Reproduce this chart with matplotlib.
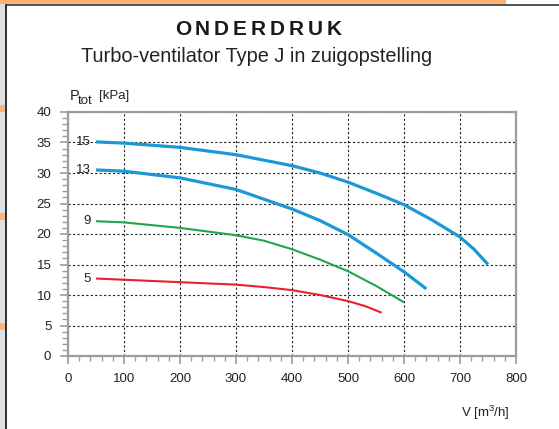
import numpy as np
import matplotlib
matplotlib.use('Agg')
import matplotlib.pyplot as plt
from matplotlib.patches import Rectangle
from matplotlib.ticker import MultipleLocator

plt.rcParams['font.family'] = ['Liberation Sans', 'DejaVu Sans']
plt.rcParams['mathtext.fontset'] = 'custom'
plt.rcParams['mathtext.rm'] = 'Liberation Sans'

# curves (V in m3/h, P in kPa)
v15 = [50, 100, 200, 300, 400, 450, 500, 550, 600, 650, 675, 700, 725, 750]
p15 = [35.1, 34.9, 34.2, 33.0, 31.2, 30.0, 28.5, 26.7, 24.8, 22.3, 20.9, 19.5, 17.5, 15.0]
v13 = [50, 100, 200, 300, 400, 450, 500, 550, 600, 640]
p13 = [30.5, 30.3, 29.2, 27.3, 24.1, 22.2, 19.9, 16.9, 13.8, 11.0]
v9 = [50, 100, 200, 300, 350, 400, 450, 500, 550, 600]
p9 = [22.1, 21.9, 21.0, 19.8, 18.9, 17.5, 15.8, 13.9, 11.5, 8.8]
v5 = [50, 100, 200, 300, 350, 400, 450, 500, 530, 560]
p5 = [12.7, 12.5, 12.1, 11.7, 11.3, 10.8, 10.0, 9.0, 8.2, 7.1]
curve_labels = ['15', '13', '9', '5']
curve_colors = ['#1b98d5', '#1b98d5', '#1fa64a', '#e8202a']
curve_widths = [2.3, 2.3, 1.5, 1.5]

W, H = 559, 429
fig = plt.figure(figsize=(W / 100, H / 100), dpi=100)


def px_rect(x0, y0, x1, y1, color):
    # rectangle in pixel coords, y measured from the top
    fig.patches.append(Rectangle((x0 / W, 1 - y1 / H), (x1 - x0) / W, (y1 - y0) / H,
                                 transform=fig.transFigure, color=color, lw=0, zorder=0))


def px_text(x, y, s, **kw):
    return fig.text(x / W, 1 - y / H, s, **kw)


# page frame decorations
px_rect(0, 0, 6, H, '#dedfe0')
px_rect(0, 0, 506, 4, '#fbb378')
for yy in (105, 213, 323):
    px_rect(0, yy, 5, yy + 7, '#fbb378')
px_rect(5, 4, W, 6, '#555555')
px_rect(5, 4, 7, H, '#333333')


def spaced_text(s, xc, yb, gap, **kw):
    r = fig.canvas.get_renderer()
    widths = []
    for ch in s:
        t = fig.text(0, 0, ch, **kw)
        widths.append(t.get_window_extent(r).width)
        t.remove()
    x = xc - (sum(widths) + gap * (len(s) - 1)) / 2
    for ch, w in zip(s, widths):
        px_text(x, yb, ch, ha='left', va='baseline', **kw)
        x += w + gap


spaced_text('ONDERDRUK', 258, 35, 3.9, fontsize=15, fontweight='bold', color='#1a1a1a')
px_text(256.5, 62, 'Turbo-ventilator Type J in zuigopstelling',
        ha='center', va='baseline', fontsize=14.4, color='#222222')

# axis titles
px_text(69.5, 99.5, 'P', ha='left', va='baseline', fontsize=10.5, color='#222222')
px_text(78, 104.5, 'tot', ha='left', va='baseline', fontsize=9.5, color='#222222')
px_text(99.5, 98.5, '[kPa]', ha='left', va='baseline', fontsize=9.5, color='#222222')
px_text(510, 417, r'V [m$^{\mathregular{3}}$/h]', ha='right', va='baseline',
        fontsize=9.5, color='#222222')

ax = fig.add_axes([68 / W, 1 - 356 / H, (516 - 68) / W, (356 - 112) / H])
ax.set_xlim(0, 800)
ax.set_ylim(0, 40)

series = [(v15, p15), (v13, p13), (v9, p9), (v5, p5)]
for (v, p), lab, col, lw in zip(series, curve_labels, curve_colors, curve_widths):
    ax.plot(v, p, color=col, lw=lw, solid_capstyle='butt', solid_joinstyle='round', zorder=3)
    ax.text(v[0] - 10, p[0], lab, ha='right', va='center', fontsize=9.5, color='#222222')

ax.xaxis.set_major_locator(MultipleLocator(100))
ax.xaxis.set_minor_locator(MultipleLocator(20))
ax.yaxis.set_major_locator(MultipleLocator(5))
ax.yaxis.set_minor_locator(MultipleLocator(1))
ax.grid(True, which='major', color='#222222', linestyle=(0, (2, 2)), lw=0.8)
ax.set_axisbelow(True)

for s in ax.spines.values():
    s.set_color('#9c9c9c')
    s.set_linewidth(1.6)
ax.tick_params(which='major', length=6, width=1.2, color='#9c9c9c', labelsize=9.5,
               labelcolor='#222222', pad=6)
ax.tick_params(which='minor', length=3.5, width=1.0, color='#9c9c9c')
ax.tick_params(axis='y', which='minor', length=4.5)

fig.savefig('out.png', dpi=100)
